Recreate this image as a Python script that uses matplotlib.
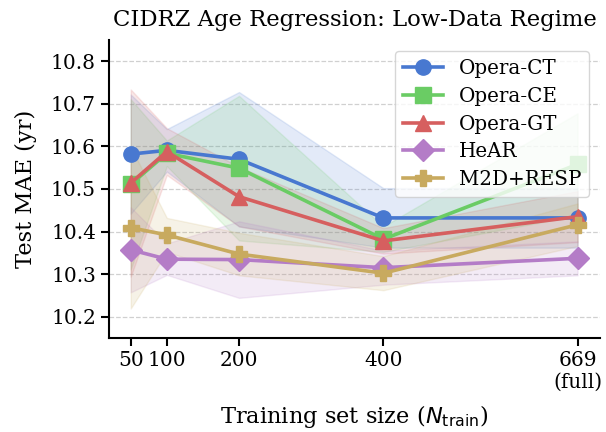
import numpy as np
import matplotlib
matplotlib.use('Agg')
import matplotlib.pyplot as plt

plt.rcParams['font.family'] = 'DejaVu Serif'
plt.rcParams['mathtext.fontset'] = 'dejavusans'

# training set sizes
n_train = [50, 100, 200, 400, 669]
tick_labels = ['50', '100', '200', '400', '669\n(full)']

names = ['Opera-CT', 'Opera-CE', 'Opera-GT', 'HeAR', 'M2D+RESP']
colors = ['#4878d0', '#6acc64', '#d65f5f', '#b47cc7', '#c8aa5f']
markers = ['o', 's', '^', 'D', 'P']

# mean test MAE (yr)
opera_ct = [10.582, 10.591, 10.570, 10.432, 10.432]
opera_ce = [10.511, 10.584, 10.549, 10.382, 10.558]
opera_gt = [10.514, 10.588, 10.482, 10.378, 10.435]
hear = [10.357, 10.335, 10.334, 10.315, 10.337]
m2d_resp = [10.409, 10.392, 10.347, 10.302, 10.416]

# std over seeds
opera_ct_sd = [0.14, 0.05, 0.158, 0.07, 0.07]
opera_ce_sd = [0.20, 0.03, 0.17, 0.03, 0.12]
opera_gt_sd = [0.22, 0.055, 0.07, 0.03, 0.06]
hear_sd = [0.10, 0.037, 0.09, 0.04, 0.04]
m2d_resp_sd = [0.19, 0.04, 0.05, 0.04, 0.05]

means = [opera_ct, opera_ce, opera_gt, hear, m2d_resp]
sds = [opera_ct_sd, opera_ce_sd, opera_gt_sd, hear_sd, m2d_resp_sd]

fig = plt.figure(figsize=(6.06, 4.32), dpi=100)
ax = fig.add_axes([0.18, 0.218, 0.81, 0.689])

x = np.array(n_train)
for name, c, m, mu, sd in zip(names, colors, markers, means, sds):
    mu = np.array(mu)
    sd = np.array(sd)
    ax.fill_between(x, mu - sd, mu + sd, color=c, alpha=0.15)
    ax.plot(x, mu, color=c, marker=m, lw=2.6, ms=11, label=name)

ax.set_xticks(n_train)
ax.set_xticklabels(tick_labels)
ax.set_xlim(20, 700)
ax.set_ylim(10.15, 10.85)
ax.set_yticks([10.2, 10.3, 10.4, 10.5, 10.6, 10.7, 10.8])
ax.tick_params(labelsize=14.5, length=6, width=1.5)
ax.grid(axis='y', ls='--', color='#d0d0d0', lw=0.9)
ax.set_axisbelow(True)
for s in ['top', 'right']:
    ax.spines[s].set_visible(False)
ax.spines['left'].set_linewidth(1.5)
ax.spines['bottom'].set_linewidth(1.5)

ax.set_xlabel(r'Training set size ($N_{\mathrm{train}}$)', fontsize=16.2, labelpad=8)
ax.set_ylabel('Test MAE (yr)', fontsize=16.2, labelpad=10)
ax.set_title('CIDRZ Age Regression: Low-Data Regime', fontsize=16.4, pad=10)
ax.legend(loc='upper right', fontsize=14.3, framealpha=0.8,
          borderaxespad=0.55, labelspacing=0.44, handlelength=2.0)

fig.savefig('out.png', dpi=100)
